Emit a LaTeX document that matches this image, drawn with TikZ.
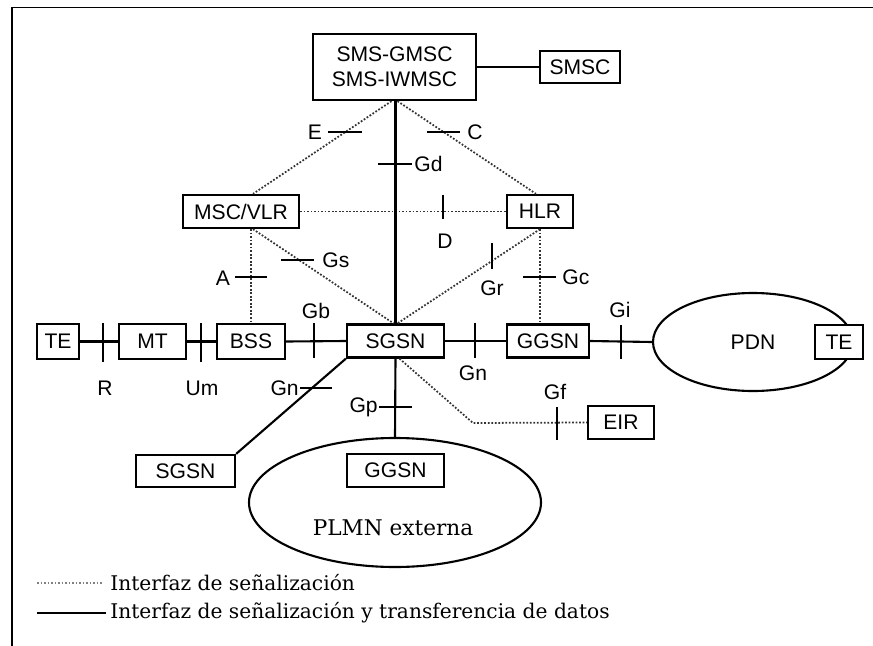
\documentclass[tikz,border=0pt]{standalone}
\usepackage{fontspec}
\setmainfont{DejaVu Serif}
\setsansfont{Liberation Sans}
\usepackage{tikz}
\usetikzlibrary{shapes.geometric}
\usetikzlibrary{calc}
\newcommand{\pxu}{0.02cm}
\tikzstyle{box} = [draw, rectangle, line width=1.3pt, fill=white, inner sep=0pt,
font=\sffamily\fontsize{12}{14.2}\selectfont, align=center]
\tikzstyle{cloud} = [draw, ellipse, line width=1.2pt, inner sep=0pt]
\tikzstyle{line} = [draw, line width=1.2pt]
\tikzstyle{sig} = [draw, densely dotted, line width=1pt, black!80]
\tikzstyle{itick} = [draw, line width=1.1pt]
\tikzstyle{lbl} = [inner sep=0pt, font=\sffamily\fontsize{12}{14}\selectfont]
\tikzstyle{leyenda} = [inner sep=0pt, anchor=west, font=\fontsize{11.5}{14}\selectfont]

\begin{document}
\begin{tikzpicture}[x=\pxu, y=-\pxu]
\useasboundingbox (0,0) rectangle (873,646);
%% frame
\draw [line width=1.1pt] (12,646) -- (12,7.5) -- (873,7.5);
%% Nodes
\node [box, minimum width=163*\pxu, minimum height=66*\pxu] (SMS) at (394.5,67) {SMS-GMSC\\SMS-IWMSC};
\node [box, minimum width=80*\pxu, minimum height=32*\pxu] (SMSC) at (580,67) {SMSC};
\node [box, minimum width=116*\pxu, minimum height=33*\pxu] (MSC) at (241,211.5) {MSC/VLR};
\node [box, minimum width=66*\pxu, minimum height=33*\pxu] (HLR) at (540,211.5) {HLR};
\node [box, minimum width=42*\pxu, minimum height=35*\pxu] (TE1) at (58,341.5) {TE};
\node [box, minimum width=67*\pxu, minimum height=35*\pxu] (MT) at (152.5,341.5) {MT};
\node [box, minimum width=68*\pxu, minimum height=35*\pxu] (BSS) at (251,341.5) {BSS};
\node [box, minimum width=97*\pxu, minimum height=33*\pxu] (SGSN) at (395.5,341) {SGSN};
\node [box, minimum width=82*\pxu, minimum height=33*\pxu] (GGSN) at (548,341) {GGSN};
\node [cloud, minimum width=200*\pxu, minimum height=98*\pxu] (PDN) at (753,342) {};
\node [lbl] (PDNl) at (753,342) {PDN};
\node [box, minimum width=48*\pxu, minimum height=34*\pxu] (TE2) at (839,342) {TE};
\node [box, minimum width=66*\pxu, minimum height=33*\pxu] (EIR) at (621,422.5) {EIR};
\node [cloud, minimum width=292*\pxu, minimum height=129*\pxu] (PLMN) at (395,502.5) {};
\node [box, minimum width=99*\pxu, minimum height=32*\pxu] (SGSN2) at (185.5,471) {SGSN};
\node [box, minimum width=97*\pxu, minimum height=33*\pxu] (GGSN2) at (395.5,470.5) {GGSN};
\node [inner sep=0pt, font=\fontsize{12.3}{14}\selectfont] (PLMNl) at (393,528) {PLMN externa};
\coordinate (bend) at (473,423);
%% Signalling
\path [sig] ($(SMS.south)+(-3,0)$) to ($(MSC.north)+(12,0)$);
\path [sig] ($(SMS.south)+(3,0)$) to ($(HLR.north)+(-4,0)$);
\path [sig] (MSC.east) to (HLR.west);
\path [sig] (MSC.south -| BSS.north) to (BSS.north);
\path [sig] ($(MSC.south)+(12,0)$) to ($(SGSN.north)+(-2,0)$);
\path [sig] (HLR.south) to ($(SGSN.north)+(2,0)$);
\path [sig] (HLR.south) to (HLR.south |- GGSN.north);
\path [sig] ($(SGSN.south)+(4,0)$) to (bend) to (EIR.west);
%% Data
\path [line] (SMS.east) to (SMSC.west);
\path [line] (SGSN.north) to (SGSN.north |- SMS.south);
\path [line] (TE1.east) to (MT.west);
\path [line] (MT.east) to (BSS.west);
\path [line] (BSS.east) to (SGSN.west);
\path [line] (SGSN.east) to (GGSN.west);
\path [line] (GGSN.east) to (PDN.west);
\path [line] (SGSN.south west) to (SGSN2.north east);
\path [line] (SGSN.south) to (PLMN.north);
%% Interfaces
\path [itick] (328,132) to (362,132);
\node [lbl] (lE) at (315,132) {E};
\path [itick] (427,132) to (460,132);
\node [lbl] (lC) at (475,132) {C};
\path [itick] (378,164) to (412,164);
\node [lbl, anchor=west] (lGd) at (414,164) {Gd};
\path [itick] (443,195) to (443,219);
\node [lbl] (lD) at (445,241) {D};
\path [itick] (281,260) to (314,260);
\node [lbl, anchor=west] (lGs) at (322,260) {Gs};
\path [itick] (235,277) to (267,277);
\node [lbl] (lA) at (223,278) {A};
\path [itick] (492,243) to (492,269);
\node [lbl] (lGr) at (492,288) {Gr};
\path [itick] (523,277) to (556,277);
\node [lbl, anchor=west] (lGc) at (562,277) {Gc};
\path [itick] (103,323) to (103,362);
\node [lbl] (lR) at (105,388) {R};
\path [itick] (201,323) to (201,362);
\node [lbl] (lUm) at (202,388) {Um};
\path [itick] (314,323) to (314,358);
\node [lbl] (lGb) at (316,311) {Gb};
\path [itick] (475,323) to (475,358);
\node [lbl] (lGn) at (473,373) {Gn};
\path [itick] (621,325) to (621,359);
\node [lbl] (lGi) at (620,310) {Gi};
\path [itick] (300,388) to (332,388);
\node [lbl, anchor=east] (lGn2) at (299,388) {Gn};
\path [itick] (379,407) to (412,407);
\node [lbl, anchor=east] (lGp) at (378,407) {Gp};
\path [itick] (557,407) to (557,440);
\node [lbl] (lGf) at (555,392) {Gf};
%% Legend
\node [leyenda] (L1) at (110,583) {Interfaz de señalización};
\node [leyenda] (L2) at (110,613) {Interfaz de señalización y transferencia de datos};
\coordinate (L1s) at (37,583);
\coordinate (L2s) at (37,613);
\path [sig, black!50] (L1s) to ($(L1.west)+(-8,0)$);
\path [line] (L2s) to ($(L2.west)+(-4,0)$);
\end{tikzpicture}
\end{document}
